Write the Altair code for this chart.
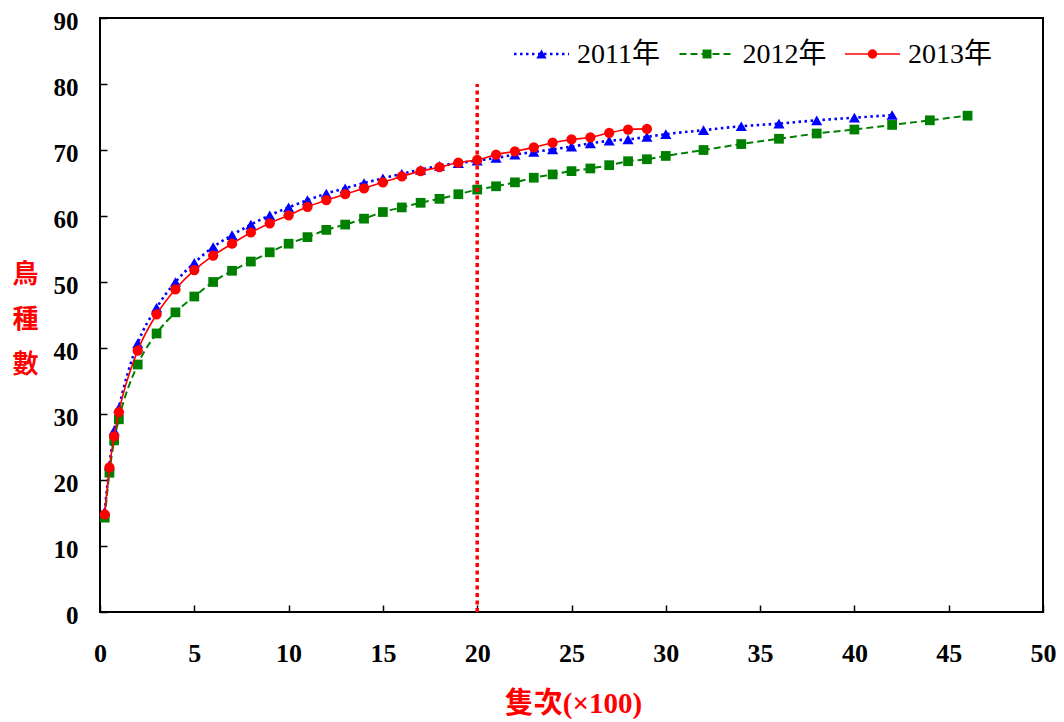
import altair as alt
import pandas as pd

# ---------------- data ----------------
series_names = ["2011年", "2012年", "2013年"]

x_2011 = [0.25, 0.5, 0.75, 1, 2, 3, 4, 5, 6, 7, 8, 9, 10, 11, 12, 13, 14, 15, 16, 17,
          18, 19, 20, 21, 22, 23, 24, 25, 26, 27, 28, 29, 30, 32, 34, 36, 38, 40, 42]
y_2011 = [15.2, 22.2, 27.5, 30.9, 40.7, 46.1, 50.0, 52.9, 55.3, 57.1, 58.7, 60.1, 61.3, 62.4,
          63.4, 64.2, 65.0, 65.7, 66.4, 67.0, 67.6, 68.0, 68.4, 68.8, 69.3, 69.7, 70.1, 70.5,
          71.0, 71.4, 71.6, 72.0, 72.4, 73.0, 73.6, 74.0, 74.5, 74.9, 75.3]

x_2012 = [0.25, 0.5, 0.75, 1, 2, 3, 4, 5, 6, 7, 8, 9, 10, 11, 12, 13, 14, 15, 16, 17,
          18, 19, 20, 21, 22, 23, 24, 25, 26, 27, 28, 29, 30, 32, 34, 36, 38, 40, 42, 44, 46]
y_2012 = [14.3, 21.1, 26.0, 29.2, 37.5, 42.2, 45.4, 47.8, 50.0, 51.7, 53.1, 54.5, 55.8, 56.8,
          57.9, 58.7, 59.6, 60.6, 61.3, 62.0, 62.6, 63.3, 64.0, 64.5, 65.1, 65.8, 66.3, 66.8,
          67.2, 67.7, 68.3, 68.6, 69.1, 70.0, 70.9, 71.7, 72.5, 73.1, 73.8, 74.5, 75.2]

x_2013 = [0.25, 0.5, 0.75, 1, 2, 3, 4, 5, 6, 7, 8, 9, 10, 11, 12, 13, 14, 15, 16, 17,
          18, 19, 20, 21, 22, 23, 24, 25, 26, 27, 28, 29]
y_2013 = [14.8, 21.9, 26.6, 30.3, 39.6, 45.1, 48.9, 51.8, 54.0, 55.8, 57.5, 58.9, 60.1, 61.4,
          62.4, 63.3, 64.2, 65.1, 66.0, 66.8, 67.4, 68.1, 68.5, 69.3, 69.8, 70.4, 71.1, 71.6,
          71.9, 72.6, 73.1, 73.2]

marker_x = [20]
marker_y0 = [0]
marker_y1 = [80]

x_ticks = [0, 5, 10, 15, 20, 25, 30, 35, 40, 45, 50]
y_ticks = [0, 10, 20, 30, 40, 50, 60, 70, 80, 90]

x_title = "隻次(×100)"
y_title = ["鳥", "種", "數"]

# ---------------- styles ----------------
colors = ["#0000FF", "#008000", "#FF0000"]
dashes = [[2.5, 3.5], [7, 4], None]
widths = [2.6, 2.0, 1.6]
shapes = ["triangle-up", "square", "circle"]
sizes = [125, 95, 105]

PLOT_W, PLOT_H = 943, 594
LABEL_FONT = "Liberation Serif"
TITLE_FONT = "Liberation Serif, Noto Sans CJK TC"
LEGEND_FONT = "Liberation Serif, Noto Sans CJK TC"

x_scale = alt.Scale(domain=[0, 50], nice=False, zero=True)
y_scale = alt.Scale(domain=[0, 90], nice=False, zero=True)
x_axis = alt.Axis(title=x_title, values=x_ticks, format="d")
y_axis = alt.Axis(title=y_title, values=y_ticks, format="d")


def X(field="x"):
    return alt.X(f"{field}:Q", scale=x_scale, axis=x_axis)


def Y(field="y"):
    return alt.Y(f"{field}:Q", scale=y_scale, axis=y_axis)


layers = []
all_x = [x_2011, x_2012, x_2013]
all_y = [y_2011, y_2012, y_2013]

for i in range(3):
    df = pd.DataFrame({"x": all_x[i], "y": all_y[i]})
    base = alt.Chart(df)
    kw = dict(color=colors[i], strokeWidth=widths[i], interpolate="monotone")
    if dashes[i]:
        kw["strokeDash"] = dashes[i]
    layers.append(base.mark_line(**kw).encode(x=X(), y=Y()))
    layers.append(
        base.mark_point(filled=True, shape=shapes[i], size=sizes[i], color=colors[i],
                        opacity=1, strokeWidth=0).encode(x=X(), y=Y())
    )

# vertical red dotted reference line
ref_df = pd.DataFrame({"x": marker_x, "y": marker_y0, "y2": marker_y1})
layers.append(
    alt.Chart(ref_df).mark_rule(color="#FF0000", strokeWidth=3.5, strokeDash=[4, 3.5])
    .encode(x=X(), y=Y(), y2="y2:Q")
)

# legend (drawn in pixel space inside the plot area)
leg_x0, leg_step, leg_y, seg_len, txt_gap = 414, 165.5, 36, 55, 63
for i, name in enumerate(series_names):
    d = alt.Data(values=[{"label": name}])
    x0 = leg_x0 + i * leg_step
    kw = dict(color=colors[i], strokeWidth=widths[i])
    if dashes[i]:
        kw["strokeDash"] = dashes[i]
    layers.append(alt.Chart(d).mark_rule(**kw).encode(
        x=alt.value(x0), x2=alt.value(x0 + seg_len), y=alt.value(leg_y)))
    layers.append(alt.Chart(d).mark_point(
        filled=True, shape=shapes[i], size=sizes[i] * 0.85, color=colors[i], opacity=1, strokeWidth=0
    ).encode(x=alt.value(x0 + seg_len / 2), y=alt.value(leg_y)))
    layers.append(alt.Chart(d).mark_text(
        align="left", baseline="middle", font=LEGEND_FONT, fontSize=28, color="black"
    ).encode(x=alt.value(x0 + txt_gap), y=alt.value(leg_y + 1), text="label:N"))

chart = (
    alt.layer(*layers)
    .properties(
        width=PLOT_W,
        height=PLOT_H,
        padding={"left": 92, "top": 10, "right": 13, "bottom": 108},
        autosize=alt.AutoSizeParams(type="none"),
        background="white",
    )
    .configure_view(stroke="black", strokeWidth=2)
    .configure_axis(
        grid=False,
        domain=False,
        ticks=True,
        tickColor="black",
        tickSize=7,
        tickWidth=1.5,
        offset=-7,
        labelFont=LABEL_FONT,
        labelFontSize=26,
        labelFontWeight="bold",
        labelColor="black",
        titleFont=TITLE_FONT,
        titleColor="#FF0000",
        titleFontWeight="bold",
    )
    .configure_axisX(
        labelPadding=28,
        labelFlush=False,
        titleFontSize=29,
        titleAngle=0,
        titleAlign="center",
        titleBaseline="middle",
        titleX=473,
        titleY=98,
    )
    .configure_axisY(
        labelPadding=22,
        labelOffset=3,
        labelFontSize=25,
        titleFontSize=26,
        titleAngle=0,
        titleAlign="center",
        titleBaseline="top",
        titleLineHeight=45,
        titleX=-82,
        titleY=243,
    )
)

chart.save("out.html", embed_options={"renderer": "svg", "actions": False})
